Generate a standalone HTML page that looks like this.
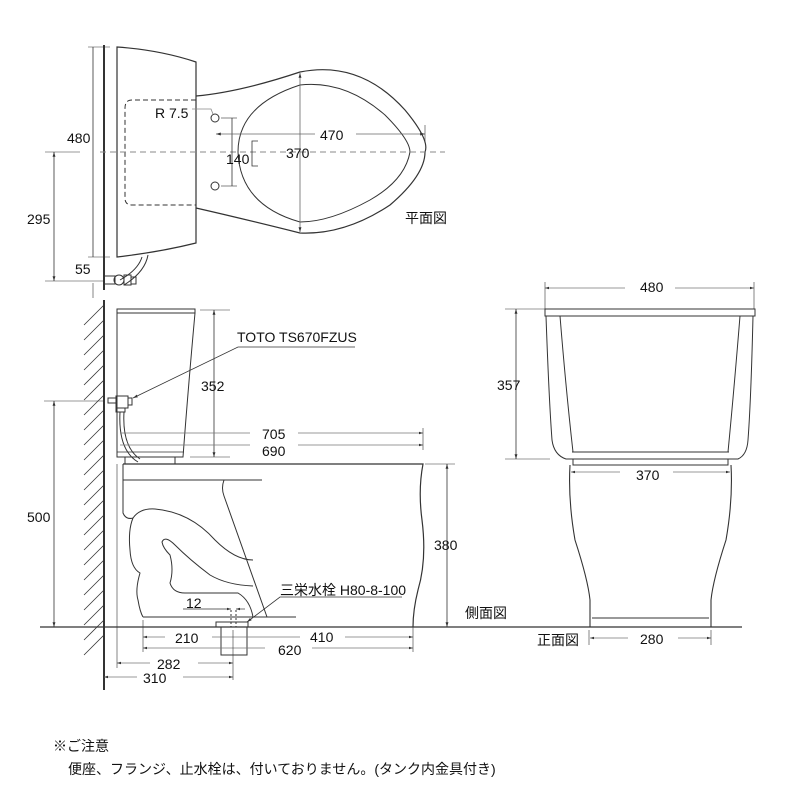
<!DOCTYPE html>
<html><head><meta charset="utf-8"><style>
html,body{margin:0;padding:0;background:#fff;width:800px;height:800px;overflow:hidden}
svg{display:block}
text{font-family:"Liberation Sans","Noto Sans CJK JP",sans-serif;font-size:14px;fill:#111}
.j{font-family:"Liberation Sans","Noto Sans CJK JP",sans-serif}
</style></head><body>
<svg width="800" height="800" viewBox="0 0 800 800" xmlns="http://www.w3.org/2000/svg">
<defs>
<marker id="a" viewBox="0 0 10 10" refX="10" refY="5" markerWidth="6" markerHeight="6" orient="auto-start-reverse"><path d="M0,2 L10,5 L0,8 z" fill="#333"/></marker>
</defs>
<g fill="none" stroke="#333" stroke-width="1">
<line x1="104" y1="45" x2="104" y2="290" stroke-width="2"/>
<path d="M117,47 Q160,50 196,62 L196,243 Q160,252 117,257 Z" stroke-width="1.2"/>
<path d="M196,96 Q240,92 300,72 Q360,60 405,110 Q430,140 425,152 Q425,175 390,205 Q345,235 300,233 Q240,218 196,208" stroke-width="1.2"/>
<path d="M238,152 Q238,105 300,85 Q345,80 385,115 Q410,140 410,152 Q405,180 370,200 Q330,222 300,222 Q240,205 238,152 Z"/>
<path d="M196,100 L132,100 Q125,100 125,108 L125,198 Q125,205 132,205 L196,205" stroke-dasharray="5,3"/>
<line x1="100" y1="152" x2="445" y2="152" stroke-dasharray="6,4" stroke="#888"/>
<circle cx="215" cy="118" r="4"/><circle cx="215" cy="186" r="4"/>
<path d="M192,109 L211,109 L213,114" stroke="#888" stroke-width="0.8"/>
<line x1="232" y1="118" x2="232" y2="186" stroke-width="0.8"/>
<line x1="221" y1="118" x2="237" y2="118" stroke-width="0.6"/><line x1="221" y1="186" x2="237" y2="186" stroke-width="0.6"/>
<path d="M258,141 L252,141 L252,166 L258,166" stroke-width="0.8"/>
<line x1="216" y1="134" x2="315" y2="134" stroke="#666" stroke-width="0.8" marker-start="url(#a)"/>
<line x1="356" y1="134" x2="425" y2="134" stroke="#666" stroke-width="0.8" marker-end="url(#a)"/>
<line x1="425" y1="125" x2="425" y2="143" stroke-width="0.6"/>
<line x1="300" y1="73" x2="300" y2="232" stroke="#666" stroke-width="0.8" marker-start="url(#a)" marker-end="url(#a)"/>
<line x1="93" y1="47" x2="93" y2="257" stroke-width="0.8"/>
<line x1="88" y1="47" x2="110" y2="47" stroke-width="0.6"/><line x1="88" y1="257" x2="110" y2="257" stroke-width="0.6"/>
<line x1="54" y1="152" x2="54" y2="281" stroke-width="0.8" marker-start="url(#a)" marker-end="url(#a)"/>
<line x1="45" y1="152" x2="80" y2="152" stroke-width="0.6"/><line x1="45" y1="281" x2="104" y2="281" stroke-width="0.6"/>
<line x1="93" y1="283" x2="93" y2="298" stroke-width="0.6"/>
<path d="M142,257 Q138,270 120,280 M148,255 Q145,272 124,285"/>
<path d="M104,276 L115,276 L115,284 L104,284"/>
<circle cx="119" cy="280" r="5"/>
<rect x="124" y="275" width="7" height="10"/><rect x="131" y="277" width="5" height="7"/>
<line x1="104" y1="300" x2="104" y2="690" stroke-width="2"/>
<g stroke-width="0.8">
<line x1="104" y1="305" x2="84" y2="325"/><line x1="104" y1="320" x2="84" y2="340"/><line x1="104" y1="335" x2="84" y2="355"/><line x1="104" y1="350" x2="84" y2="370"/><line x1="104" y1="365" x2="84" y2="385"/><line x1="104" y1="380" x2="84" y2="400"/><line x1="104" y1="395" x2="84" y2="415"/><line x1="104" y1="410" x2="84" y2="430"/><line x1="104" y1="425" x2="84" y2="445"/><line x1="104" y1="440" x2="84" y2="460"/><line x1="104" y1="455" x2="84" y2="475"/><line x1="104" y1="470" x2="84" y2="490"/><line x1="104" y1="485" x2="84" y2="505"/><line x1="104" y1="500" x2="84" y2="520"/><line x1="104" y1="515" x2="84" y2="535"/><line x1="104" y1="530" x2="84" y2="550"/><line x1="104" y1="545" x2="84" y2="565"/><line x1="104" y1="560" x2="84" y2="580"/><line x1="104" y1="575" x2="84" y2="595"/><line x1="104" y1="590" x2="84" y2="610"/><line x1="104" y1="605" x2="84" y2="625"/><line x1="104" y1="620" x2="84" y2="640"/><line x1="104" y1="635" x2="84" y2="655"/>
</g>
<line x1="40" y1="627" x2="742" y2="627" stroke-width="1.2"/>
<rect x="117" y="309" width="78" height="4"/>
<path d="M117,313 L117,457 L183,457 Q188,390 195,313"/>
<line x1="117" y1="452" x2="184" y2="452" stroke-width="0.7"/>
<rect x="125" y="457" width="50" height="7"/>
<rect x="108" y="398" width="8" height="5"/><rect x="116" y="396" width="12" height="12"/><rect x="128" y="398" width="4" height="7"/><rect x="116" y="408" width="9" height="4"/>
<path d="M120,412 Q118,450 138,462 M124,412 Q122,447 140,459"/>
<line x1="214" y1="310" x2="214" y2="457" stroke-width="0.8" marker-start="url(#a)" marker-end="url(#a)"/>
<line x1="200" y1="310" x2="230" y2="310" stroke-width="0.6"/><line x1="190" y1="457" x2="230" y2="457" stroke-width="0.6"/>
<path d="M355,347 L238,347 L133,398" stroke-width="0.8" marker-end="url(#a)"/>
<line x1="54" y1="401" x2="54" y2="627" stroke-width="0.8" marker-start="url(#a)" marker-end="url(#a)"/>
<line x1="44" y1="401" x2="104" y2="401" stroke-width="0.6"/>
<line x1="120" y1="433" x2="250" y2="433" stroke="#777" stroke-width="0.7"/><line x1="298" y1="433" x2="423" y2="433" stroke="#777" stroke-width="0.7" marker-end="url(#a)"/>
<line x1="120" y1="445" x2="250" y2="445" stroke="#777" stroke-width="0.7"/><line x1="298" y1="445" x2="423" y2="445" stroke="#777" stroke-width="0.7" marker-end="url(#a)"/>
<line x1="423" y1="428" x2="423" y2="450" stroke-width="0.6"/>
<path d="M123,464 L423,464 Q418,490 422,520 Q427,560 418,590 Q413,610 413,627" stroke-width="1.2"/>
<path d="M123,464 L123,513 Q126,520 133,518 Q140,508 155,509 Q190,512 215,540 Q235,560 253,560"/>
<path d="M133,518 Q128,530 130,550 Q131,568 140,573 Q135,590 138,600 Q140,612 143,617"/>
<path d="M253,586 Q227,585 210,575 Q190,560 175,545 Q165,535 162,542 Q163,548 170,555 Q174,570 170,583 Q173,593 185,593 L238,593 Q250,600 253,617"/>
<line x1="123" y1="480" x2="262" y2="480"/>
<path d="M224,480 Q221,488 224,496 L267,617"/>
<line x1="143" y1="617" x2="296" y2="617"/>
<rect x="216" y="622" width="32" height="5"/>
<rect x="221" y="627" width="26" height="28"/>
<line x1="231" y1="610" x2="231" y2="627" stroke-dasharray="2,2"/><line x1="236" y1="610" x2="236" y2="627" stroke-dasharray="2,2"/>
<line x1="183" y1="609" x2="231" y2="609" stroke-width="0.7" marker-end="url(#a)"/><line x1="245" y1="609" x2="236" y2="609" stroke-width="0.7" marker-end="url(#a)"/>
<path d="M402,597 L280,597 L247,622" stroke-width="0.8" marker-end="url(#a)"/>
<line x1="447" y1="464" x2="447" y2="627" stroke-width="0.8" marker-start="url(#a)" marker-end="url(#a)"/>
<line x1="425" y1="464" x2="455" y2="464" stroke-width="0.6"/>
<g stroke="#777" stroke-width="0.7">
<line x1="143" y1="637" x2="165" y2="637" marker-start="url(#a)"/><line x1="212" y1="637" x2="233" y2="637"/>
<line x1="233" y1="637" x2="300" y2="637"/><line x1="345" y1="637" x2="413" y2="637" marker-end="url(#a)"/>
<line x1="143" y1="648" x2="265" y2="648" marker-start="url(#a)"/><line x1="312" y1="648" x2="413" y2="648" marker-end="url(#a)"/>
<line x1="117" y1="663" x2="150" y2="663" marker-start="url(#a)"/><line x1="198" y1="663" x2="233" y2="663" marker-end="url(#a)"/>
<line x1="104" y1="677" x2="137" y2="677" marker-start="url(#a)"/><line x1="183" y1="677" x2="233" y2="677" marker-end="url(#a)"/>
</g>
<line x1="143" y1="620" x2="143" y2="652" stroke-width="0.6"/><line x1="413" y1="627" x2="413" y2="652" stroke-width="0.6"/>
<line x1="117" y1="464" x2="117" y2="668" stroke-width="0.6"/><line x1="233" y1="630" x2="233" y2="680" stroke-width="0.6"/>
<line x1="545" y1="288" x2="625" y2="288" stroke="#777" stroke-width="0.7" marker-start="url(#a)"/><line x1="675" y1="288" x2="754" y2="288" stroke="#777" stroke-width="0.7" marker-end="url(#a)"/>
<line x1="545" y1="282" x2="545" y2="309" stroke-width="0.6"/><line x1="754" y1="282" x2="754" y2="309" stroke-width="0.6"/>
<rect x="545" y="309" width="210" height="7"/>
<path d="M546,316 Q549,400 552,440 Q554,455 566,459 L738,459 Q747,455 748,440 Q751,400 753,316"/>
<path d="M560,316 Q566,390 573,452 M740,316 Q734,390 728,452"/>
<line x1="572" y1="452" x2="729" y2="452"/>
<rect x="573" y="459" width="155" height="6"/>
<line x1="516" y1="309" x2="516" y2="459" stroke-width="0.8" marker-start="url(#a)" marker-end="url(#a)"/>
<line x1="505" y1="309" x2="545" y2="309" stroke-width="0.6"/><line x1="505" y1="459" x2="550" y2="459" stroke-width="0.6"/>
<path d="M570,465 Q568,500 575,540 Q588,580 590,600 L590,627 M731,465 Q733,500 726,540 Q713,580 711,600 L711,627" stroke-width="1.1"/>
<line x1="592" y1="618" x2="709" y2="618"/>
<line x1="571" y1="472" x2="620" y2="472" stroke="#777" stroke-width="0.7" marker-start="url(#a)"/><line x1="673" y1="472" x2="730" y2="472" stroke="#777" stroke-width="0.7" marker-end="url(#a)"/>
<line x1="590" y1="638" x2="628" y2="638" stroke="#777" stroke-width="0.7" marker-start="url(#a)"/><line x1="678" y1="638" x2="711" y2="638" stroke="#777" stroke-width="0.7" marker-end="url(#a)"/>
<line x1="589" y1="630" x2="589" y2="645" stroke-width="0.6"/><line x1="711" y1="630" x2="711" y2="645" stroke-width="0.6"/>
</g>
<text x="67" y="143">480</text>
<text x="27" y="224">295</text>
<text x="75" y="274">55</text>
<text x="155" y="118">R 7.5</text>
<text x="226" y="164">140</text>
<text x="320" y="140">470</text>
<text x="286" y="158">370</text>
<text x="405" y="223" class="j">平面図</text>
<text x="237" y="342">TOTO TS670FZUS</text>
<text x="201" y="391">352</text>
<text x="27" y="522">500</text>
<text x="262" y="439">705</text>
<text x="262" y="456">690</text>
<text x="434" y="550">380</text>
<text x="280" y="595" class="j">三栄水栓 H80-8-100</text>
<text x="186" y="608">12</text>
<text x="465" y="618" class="j">側面図</text>
<text x="175" y="643">210</text>
<text x="310" y="642">410</text>
<text x="278" y="655">620</text>
<text x="157" y="669">282</text>
<text x="143" y="683">310</text>
<text x="640" y="292">480</text>
<text x="497" y="390">357</text>
<text x="636" y="480">370</text>
<text x="537" y="645" class="j">正面図</text>
<text x="640" y="644">280</text>
<text x="53" y="751" class="j" style="font-size:14px">※ご注意</text>
<text x="68" y="774" class="j" style="font-size:14px">便座、フランジ、止水栓は、付いておりません。(タンク内金具付き)</text>
</svg>
</body></html>
